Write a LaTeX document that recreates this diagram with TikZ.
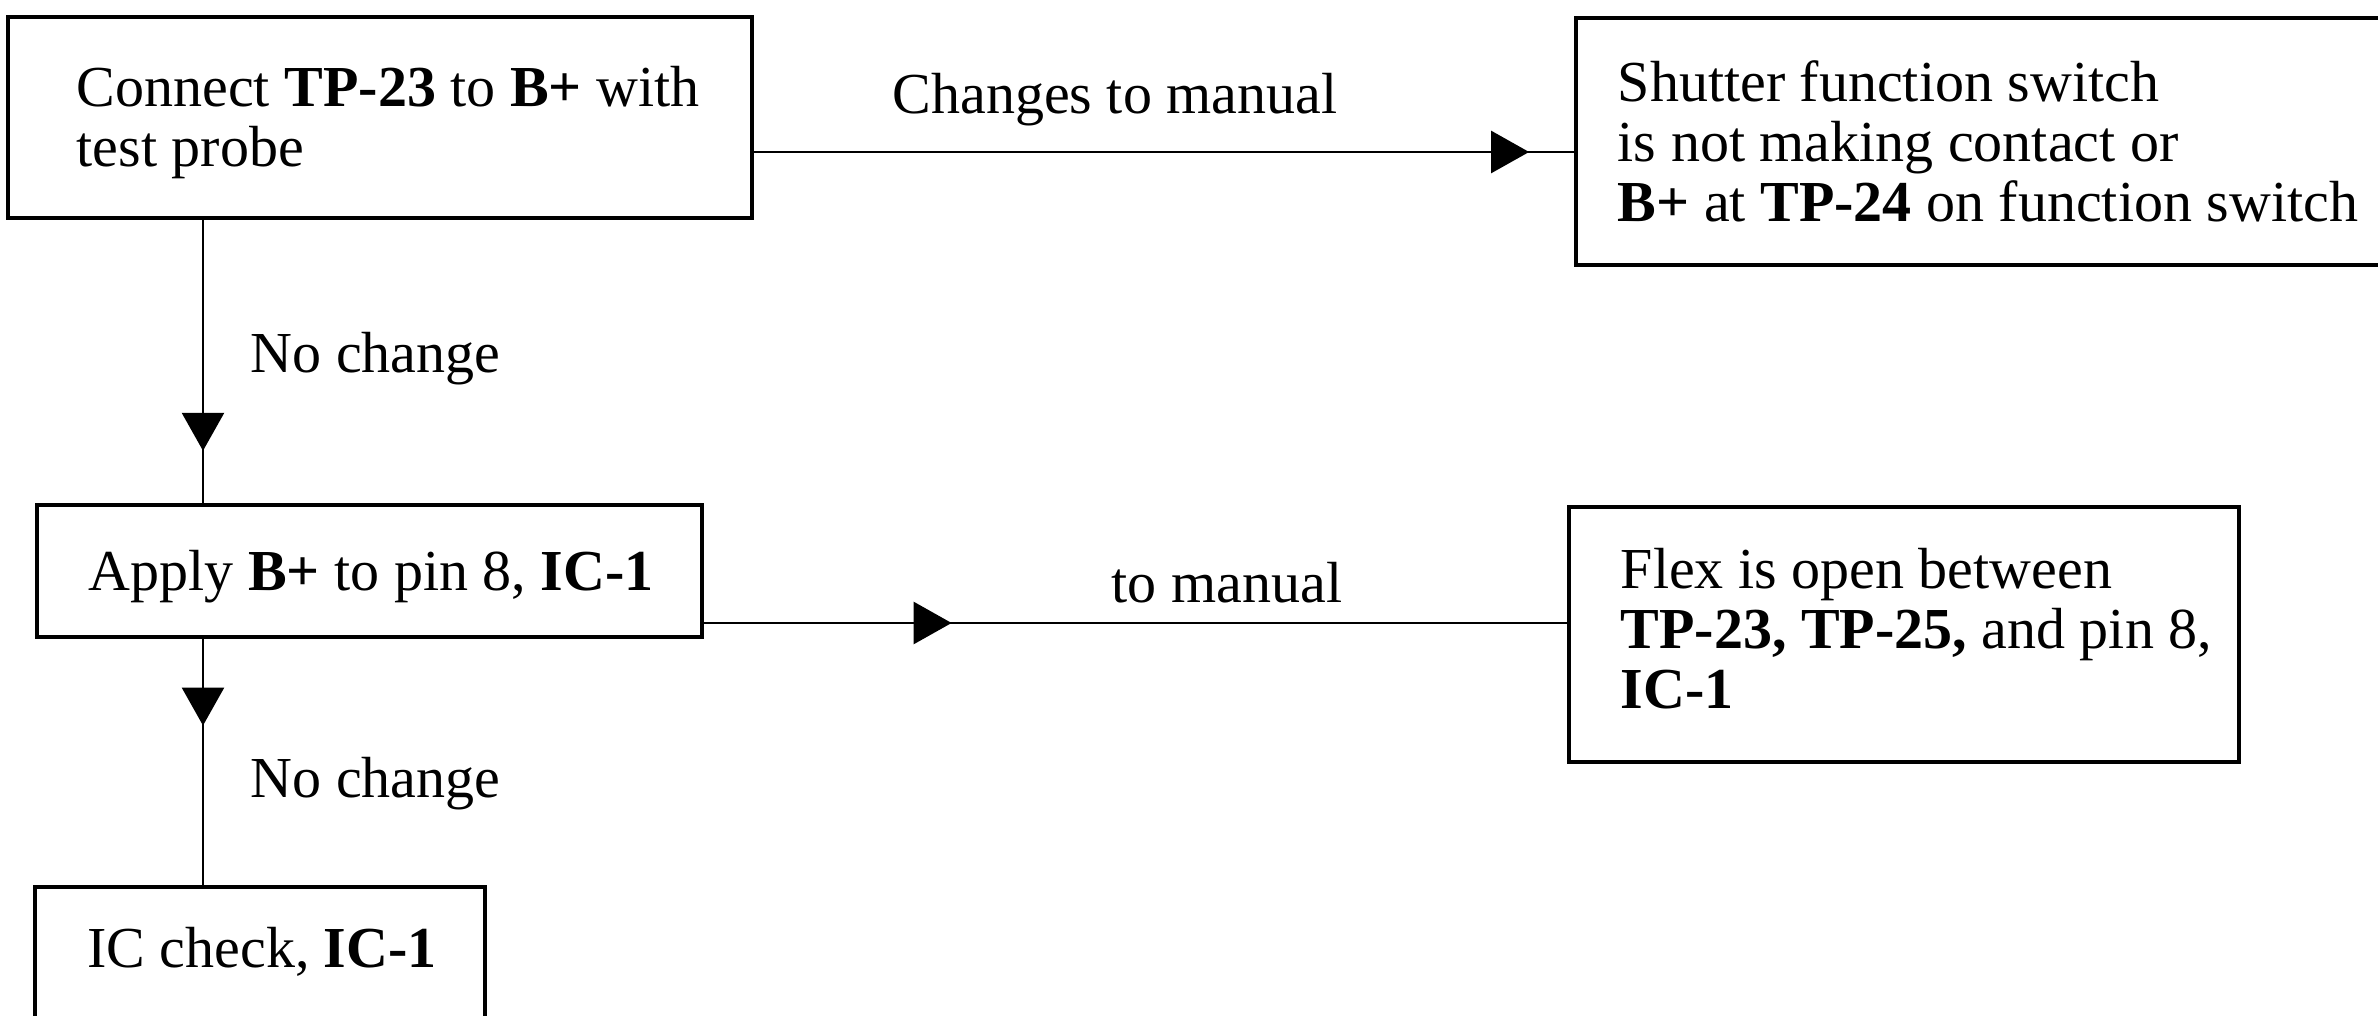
\documentclass[tikz,border=0pt]{standalone}
\usepackage{fontspec}
\setmainfont{Liberation Serif}
\usetikzlibrary{fit,arrows.meta,decorations.markings}
\tikzset{
  box/.style={draw, line width=0.9pt, inner sep=0pt, rectangle},
  txt/.style={inner sep=0pt, align=left, font=\fontsize{14.5}{15}\selectfont},
  conn/.style={line width=0.7pt},
  midarrow/.style={postaction={decorate}, decoration={markings,
      mark=at position #1 with {\arrow{Triangle[length=9.5pt,width=10.5pt]}}}}
}
\begin{document}
\begin{tikzpicture}[x=0.25pt,y=-0.25pt]
\useasboundingbox (0,0) rectangle (2378,1016);
\clip (0,0) rectangle (2378,1016);
\fill[white] (0,0) rectangle (2378,1016);
% boxes
\node[box, fit={(8,17) (752,218)}] (b1) {};
\node[box, fit={(1576,18) (2400,265)}] (b2) {};
\node[box, fit={(37,505) (702,637)}] (b3) {};
\node[box, fit={(1569,507) (2239,762)}] (b4) {};
\node[box, fit={(35,887) (485,1060)}] (b5) {};
% texts (anchor at the baseline of the last line)
\node[txt, anchor=base west] (t1) at (76,167) {Connect \textbf{TP-23} to \textbf{B+} with\\test probe};
\node[txt, anchor=base west] (t2) at (1617,222) {Shutter function switch\\is not making contact or\\\textbf{B+} at \textbf{TP-24} on function switch};
\node[txt, anchor=base west] (t3) at (88,590) {Apply \textbf{B+} to pin 8, \textbf{IC-1}};
\node[txt, anchor=base west] (t4) at (1620,708) {Flex is open between\\\textbf{TP-23, TP-25,} and pin 8,\\\textbf{IC-1}};
\node[txt, anchor=base] (t5) at (262,967) {IC check, \textbf{IC-1}};
% connectors
\coordinate (v) at (203,0);
\coordinate (a1) at (0,152);
\coordinate (a2) at (0,623);
\draw[conn, midarrow=0.945] (a1 -| b1.east) -- (a1 -| b2.west);
\draw[conn, midarrow=0.815] (v |- b1.south) -- (v |- b3.north);
\draw[conn, midarrow=0.287] (a2 -| b3.east) -- (a2 -| b4.west);
\draw[conn, midarrow=0.352] (v |- b3.south) -- (v |- b5.north);
% labels
\node[txt, anchor=base] (l1) at (1115,114) {Changes to manual};
\node[txt, anchor=base west] (l2) at (250,372) {No change};
\node[txt, anchor=base] (l3) at (1227,602) {to manual};
\node[txt, anchor=base west] (l4) at (250,797) {No change};
\end{tikzpicture}
\end{document}
